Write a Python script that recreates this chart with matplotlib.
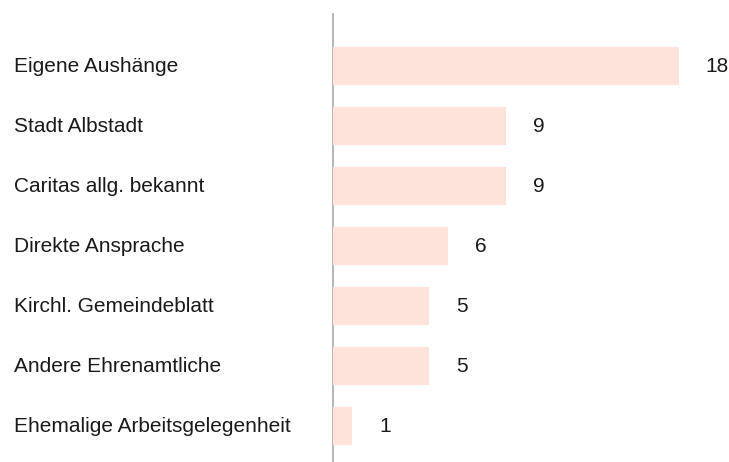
import matplotlib.pyplot as plt
import matplotlib.transforms as mtransforms

categories = ["Eigene Aushänge", "Stadt Albstadt", "Caritas allg. bekannt",
              "Direkte Ansprache", "Kirchl. Gemeindeblatt", "Andere Ehrenamtliche",
              "Ehemalige Arbeitsgelegenheit"]
values = [18, 9, 9, 6, 5, 5, 1]

plt.rcParams['font.family'] = ['Liberation Sans', 'DejaVu Sans']

fig = plt.figure(figsize=(7.29, 4.62), dpi=100)
ax = fig.add_axes([333 / 729, 0, 1 - 333 / 729, 448 / 462])

ypos = list(range(len(categories)))
ax.barh(ypos, values, height=0.63, color="#fde3d9", zorder=1)

ax.set_xlim(0, (729 - 333) / 19.2)
ax.set_ylim(6.6, -0.867)

for s in ["top", "right", "bottom"]:
    ax.spines[s].set_visible(False)
ax.spines["left"].set_color("#aaaaaa")
ax.spines["left"].set_linewidth(1.2)
ax.spines["left"].set_zorder(0.5)
ax.set_xticks([])
ax.set_yticks([])

trans = mtransforms.blended_transform_factory(fig.transFigure, ax.transData)
for y, cat in zip(ypos, categories):
    ax.text(14 / 729, y, cat, transform=trans, ha="left", va="center",
            fontsize=15, color="#1a1a1a")

for y, v in zip(ypos, values):
    ax.annotate(str(v), (v, y), xytext=(27, 0), textcoords="offset pixels",
                ha="left", va="center", fontsize=15, color="#1a1a1a")

fig.savefig("out.png", dpi=100)
